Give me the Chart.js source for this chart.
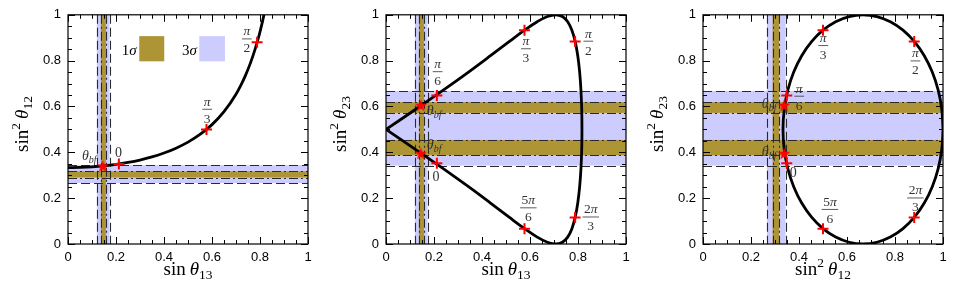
<!DOCTYPE html>
<html><head><meta charset="utf-8">
<style>
html,body{margin:0;padding:0;background:#fff;}
body{width:959px;height:290px;position:relative;overflow:hidden;}
canvas{position:absolute;top:0;display:block;}
</style>
<script src="https://cdn.jsdelivr.net/npm/chart.js@4"></script>
</head><body>
<canvas id="c1" width="318" height="290" style="left:0px"></canvas>
<canvas id="c2" width="318" height="290" style="left:318px"></canvas>
<canvas id="c3" width="318" height="290" style="left:635px"></canvas>
<script>
// ---------- axis ticks ----------
const MAJOR_TICKS = [0, 0.2, 0.4, 0.6, 0.8, 1];
const TICK_LABELS = ['0', '0.2', '0.4', '0.6', '0.8', '1'];
const MINOR_TICKS = [0.05,0.1,0.15,0.25,0.3,0.35,0.45,0.5,0.55,0.65,0.7,0.75,0.85,0.9,0.95];

// ---------- experimental ranges ----------
const S13_3SIGMA = [0.12, 0.173];      // sin(theta13)
const S13_1SIGMA = [0.137, 0.158];
const S12_3SIGMA = [0.266, 0.344];     // sin^2(theta12)
const S12_1SIGMA = [0.29, 0.317];
const S23_3SIGMA = [0.342, 0.668];     // sin^2(theta23)
const S23_1SIGMA_LO = [0.387, 0.454];
const S23_1SIGMA_HI = [0.572, 0.619];

// ---------- panel 1 : sin^2 th12 vs sin th13 ----------
const P1_CURVE = [[0,0.3333],[0.05,0.3342],[0.1,0.3367],[0.15,0.341],[0.2,0.3472],[0.25,0.3556],[0.3,0.3663],[0.35,0.3799],[0.4,0.3968],[0.45,0.418],[0.5,0.4444],[0.55,0.4779],[0.6,0.5208],[0.65,0.5772],[0.7,0.6536],[0.72,0.6921],[0.74,0.7368],[0.76,0.7891],[0.78,0.8512],[0.79,0.8868],[0.8,0.9259],[0.81,0.9693],[0.8165,1.0]];
const P1_CROSSES = [[0.212,0.349],[0.577,0.5],[0.788,0.88]];
const P1_STARS = [[0.145,0.341]];

// ---------- panel 2 : sin^2 th23 vs sin th13 ----------
const P2_CURVE = [[0,0.5],[0.1224,0.4132],[0.2385,0.329],[0.3438,0.25],[0.4355,0.1786],[0.513,0.117],[0.5774,0.067],[0.63,0.0301],[0.6727,0.0076],[0.7071,0],[0.7348,0.0076],[0.757,0.0301],[0.7746,0.067],[0.7884,0.117],[0.799,0.1786],[0.8069,0.25],[0.8123,0.329],[0.8155,0.4132],[0.8165,0.5],[0.8155,0.5868],[0.8123,0.671],[0.8069,0.75],[0.799,0.8214],[0.7884,0.883],[0.7746,0.933],[0.757,0.9699],[0.7348,0.9924],[0.7071,1],[0.6727,0.9924],[0.63,0.9699],[0.5774,0.933],[0.513,0.883],[0.4355,0.8214],[0.3438,0.75],[0.2385,0.671],[0.1224,0.5868],[0,0.5]];
const P2_CROSSES = [[0.212,0.352],[0.212,0.648],[0.577,0.933],[0.788,0.884],[0.788,0.116],[0.577,0.067]];
const P2_STARS = [[0.145,0.606],[0.145,0.396]];

// ---------- panel 3 : sin^2 th23 vs sin^2 th12 ----------
const P3_CURVE = [[1,0.5],[0.9949,0.5868],[0.9799,0.671],[0.9553,0.75],[0.922,0.8214],[0.8809,0.883],[0.8333,0.933],[0.7807,0.9699],[0.7245,0.9924],[0.6667,1],[0.6088,0.9924],[0.5527,0.9699],[0.5,0.933],[0.4524,0.883],[0.4113,0.8214],[0.378,0.75],[0.3534,0.671],[0.3384,0.5868],[0.3333,0.5],[0.3384,0.4132],[0.3534,0.329],[0.378,0.25],[0.4113,0.1786],[0.4524,0.117],[0.5,0.067],[0.5527,0.0301],[0.6088,0.0076],[0.6667,0],[0.7245,0.0076],[0.7807,0.0301],[0.8333,0.067],[0.8809,0.117],[0.922,0.1786],[0.9553,0.25],[0.9799,0.329],[0.9949,0.4132],[1,0.5]];
const P3_CROSSES = [[0.349,0.352],[0.349,0.648],[0.5,0.933],[0.88,0.884],[0.88,0.116],[0.5,0.067]];
const P3_STARS = [[0.338,0.606],[0.338,0.396]];

// ---------- annotations (value coordinates) ----------
const P1_NOTES = [
  {kind:'bf', x:0.058, y:0.386},
  {kind:'txt', s:'0', x:0.21, y:0.40},
  {kind:'frac', n:'π', d:'3', x:0.58, y:0.59},
  {kind:'frac', n:'π', d:'2', x:0.745, y:0.897}
];
const P2_NOTES = [
  {kind:'frac', n:'π', d:'6', x:0.215, y:0.754},
  {kind:'bf', x:0.17, y:0.582},
  {kind:'bf', x:0.17, y:0.435},
  {kind:'txt', s:'0', x:0.208, y:0.296},
  {kind:'frac', n:'π', d:'3', x:0.583, y:0.854},
  {kind:'frac', n:'π', d:'2', x:0.843, y:0.887},
  {kind:'frac', n:'5π', d:'6', x:0.593, y:0.16},
  {kind:'frac', n:'2π', d:'3', x:0.853, y:0.12}
];
const P3_NOTES = [
  {kind:'frac', n:'π', d:'3', x:0.501, y:0.868},
  {kind:'frac', n:'π', d:'2', x:0.885, y:0.801},
  {kind:'frac', n:'π', d:'6', x:0.401, y:0.647},
  {kind:'bf', x:0.245, y:0.611},
  {kind:'bf', x:0.245, y:0.403},
  {kind:'txt', s:'0', x:0.376, y:0.31},
  {kind:'frac', n:'5π', d:'6', x:0.529, y:0.153},
  {kind:'frac', n:'2π', d:'3', x:0.885, y:0.203}
];

// ---------- styles ----------
const LAV = '#ccccff';
const OLIVE = '#ad9536';
const LINE_COL = '#2a2a2a';
const SERIF = '"Liberation Serif", "DejaVu Serif", serif';
const SANS = '"Liberation Sans", Arial, sans-serif';
const NOTE_COL = '#333';

function pts(a){ return a.map(p => ({x:p[0], y:p[1]})); }

function makeStar(r){
  const s = Math.ceil(2*r + 2);
  const c = document.createElement('canvas'); c.width = s; c.height = s;
  const g = c.getContext('2d');
  g.translate(s/2, s/2 + r*0.1);
  g.beginPath();
  for (let i = 0; i < 10; i++){
    const rr = (i % 2) ? r*0.42 : r;
    const a = -Math.PI/2 + i*Math.PI/5;
    g.lineTo(rr*Math.cos(a), rr*Math.sin(a));
  }
  g.closePath(); g.fillStyle = '#ff0000'; g.fill();
  return c;
}
const STAR = makeStar(6.5);

// rich text: parts [{t, it, sz, dy}]
function richWidth(ctx, parts){
  let w = 0;
  parts.forEach(p => { ctx.font = (p.it?'italic ':'') + p.sz + 'px ' + SERIF; w += ctx.measureText(p.t).width + (p.gap||0); });
  return w;
}
function drawRich(ctx, parts, x, y, align){
  const w = richWidth(ctx, parts);
  let cx = align === 'center' ? x - w/2 : (align === 'right' ? x - w : x);
  ctx.textBaseline = 'alphabetic'; ctx.textAlign = 'left';
  parts.forEach(p => {
    ctx.font = (p.it?'italic ':'') + p.sz + 'px ' + SERIF;
    ctx.fillText(p.t, cx, y + (p.dy||0));
    cx += ctx.measureText(p.t).width + (p.gap||0);
  });
}
function mathParts(s, sz){
  const out = [];
  for (const ch of s){ out.push({t:ch, it:/[πθσ]/.test(ch), sz:sz}); }
  return out;
}

const TITLE = {
  sinT13: [{t:'sin',sz:19,gap:4},{t:'θ',it:true,sz:19},{t:'13',sz:13.5,dy:4}],
  sin2T12: [{t:'sin',sz:19},{t:'2',sz:13.5,dy:-8,gap:4},{t:'θ',it:true,sz:19},{t:'12',sz:13.5,dy:4}],
  sin2T23: [{t:'sin',sz:19},{t:'2',sz:13.5,dy:-8,gap:4},{t:'θ',it:true,sz:19},{t:'23',sz:13.5,dy:4}]
};

const PANELS = {
  c1: {vx3:[S13_3SIGMA], vx1:[S13_1SIGMA], hy3:[S12_3SIGMA], hy1:[S12_1SIGMA], notes:P1_NOTES, xt:'sinT13', yt:'sin2T12', legend:true},
  c2: {vx3:[S13_3SIGMA], vx1:[S13_1SIGMA], hy3:[S23_3SIGMA], hy1:[S23_1SIGMA_LO, S23_1SIGMA_HI], notes:P2_NOTES, xt:'sinT13', yt:'sin2T23'},
  c3: {vx3:[S12_3SIGMA], vx1:[S12_1SIGMA], hy3:[S23_3SIGMA], hy1:[S23_1SIGMA_LO, S23_1SIGMA_HI], notes:P3_NOTES, xt:'sin2T12', yt:'sin2T23'}
};

const panelPlugin = {
  id: 'panelDeco',
  beforeDatasetsDraw(chart){
    const o = PANELS[chart.canvas.id];
    const {ctx, chartArea:a, scales:{x, y}} = chart;
    ctx.save();
    ctx.beginPath(); ctx.rect(a.left, a.top, a.width, a.height); ctx.clip();
    const vb = (r, col) => { const x0 = x.getPixelForValue(r[0]), x1 = x.getPixelForValue(r[1]); ctx.fillStyle = col; ctx.fillRect(x0, a.top, x1-x0, a.height); };
    const hb = (r, col) => { const y0 = y.getPixelForValue(r[1]), y1 = y.getPixelForValue(r[0]); ctx.fillStyle = col; ctx.fillRect(a.left, y0, a.width, y1-y0); };
    o.vx3.forEach(r => vb(r, LAV)); o.hy3.forEach(r => hb(r, LAV));
    o.vx1.forEach(r => vb(r, OLIVE)); o.hy1.forEach(r => hb(r, OLIVE));
    ctx.strokeStyle = LINE_COL; ctx.lineWidth = 1.1;
    const vl = (v, dash) => { const px = Math.round(x.getPixelForValue(v)) + 0.5; ctx.setLineDash(dash); ctx.beginPath(); ctx.moveTo(px, a.top); ctx.lineTo(px, a.bottom); ctx.stroke(); };
    const hl = (v, dash) => { const py = Math.round(y.getPixelForValue(v)) + 0.5; ctx.setLineDash(dash); ctx.beginPath(); ctx.moveTo(a.left, py); ctx.lineTo(a.right, py); ctx.stroke(); };
    const DASH = [9, 4], DASHDOT = [9, 3, 2, 3];
    o.vx3.forEach(r => { vl(r[0], DASH); vl(r[1], DASH); });
    o.hy3.forEach(r => { hl(r[0], DASH); hl(r[1], DASH); });
    o.vx1.forEach(r => { vl(r[0], DASHDOT); vl(r[1], DASHDOT); });
    o.hy1.forEach(r => { hl(r[0], DASHDOT); hl(r[1], DASHDOT); });
    ctx.restore();
  },
  afterDatasetsDraw(chart){
    const o = PANELS[chart.canvas.id];
    const {ctx, chartArea:a, scales:{x, y}} = chart;
    ctx.save();
    ctx.fillStyle = NOTE_COL; ctx.strokeStyle = NOTE_COL;
    o.notes.forEach(n => {
      const px = x.getPixelForValue(n.x), py = y.getPixelForValue(n.y);
      if (n.kind === 'frac'){
        const np = mathParts(n.n, 13.5), dp = mathParts(n.d, 13.5);
        const w = Math.max(richWidth(ctx, np), richWidth(ctx, dp)) + 3;
        drawRich(ctx, np, px, py - 3, 'center');
        drawRich(ctx, dp, px, py + 14, 'center');
        ctx.setLineDash([]); ctx.lineWidth = 0.8;
        ctx.beginPath(); ctx.moveTo(px - w/2, py + 0.5); ctx.lineTo(px + w/2, py + 0.5); ctx.stroke();
      } else if (n.kind === 'txt'){
        drawRich(ctx, [{t:n.s, sz:14}], px, py + 4.5, 'center');
      } else if (n.kind === 'bf'){
        drawRich(ctx, [{t:'θ', it:true, sz:14}, {t:'bf', it:true, sz:10, dy:3}], px, py + 4.5, 'left');
      }
    });
    if (o.legend){
      ctx.fillStyle = OLIVE;
      const lx0 = x.getPixelForValue(0.297), lx1 = x.getPixelForValue(0.401);
      const ly0 = y.getPixelForValue(0.907), ly1 = y.getPixelForValue(0.797);
      ctx.fillRect(lx0, ly0, lx1-lx0, ly1-ly0);
      ctx.fillStyle = LAV;
      const mx0 = x.getPixelForValue(0.547), mx1 = x.getPixelForValue(0.654);
      ctx.fillRect(mx0, ly0, mx1-mx0, ly1-ly0);
      ctx.fillStyle = '#000';
      const ty = y.getPixelForValue(0.847) + 5;
      drawRich(ctx, [{t:'1',sz:15},{t:'σ',it:true,sz:15}], x.getPixelForValue(0.286), ty, 'right');
      drawRich(ctx, [{t:'3',sz:15},{t:'σ',it:true,sz:15}], x.getPixelForValue(0.5375), ty, 'right');
    }
    ctx.setLineDash([]);
    ctx.strokeStyle = '#000'; ctx.lineWidth = 1.2;
    ctx.strokeRect(a.left, a.top, a.width, a.height);
    ctx.lineWidth = 1;
    const tick = (v, len) => {
      const px = Math.round(x.getPixelForValue(v)) + 0.5;
      const py = Math.round(y.getPixelForValue(v)) + 0.5;
      ctx.beginPath();
      ctx.moveTo(px, a.bottom); ctx.lineTo(px, a.bottom - len);
      ctx.moveTo(px, a.top); ctx.lineTo(px, a.top + len);
      ctx.moveTo(a.left, py); ctx.lineTo(a.left + len, py);
      ctx.moveTo(a.right, py); ctx.lineTo(a.right - len, py);
      ctx.stroke();
    };
    MAJOR_TICKS.forEach(v => tick(v, 7));
    MINOR_TICKS.forEach(v => tick(v, 4));
    ctx.fillStyle = '#000';
    drawRich(ctx, TITLE[o.xt], (a.left + a.right)/2, 275, 'center');
    ctx.translate(28, 124);
    ctx.rotate(-Math.PI/2);
    drawRich(ctx, TITLE[o.yt], 0, 0, 'center');
    ctx.restore();
  }
};

function axis(isX){
  return {
    type: 'linear', min: 0, max: 1,
    position: isX ? 'bottom' : 'left',
    afterBuildTicks: s => { s.ticks = MAJOR_TICKS.map(v => ({value: v})); },
    afterFit: s => { if (isX) s.height = 46; else s.width = 68; },
    grid: {display: false, drawTicks: false},
    border: {display: false},
    ticks: {
      callback: (v, i) => TICK_LABELS[i],
      padding: isX ? 6 : 7,
      color: '#000',
      maxRotation: 0, autoSkip: false,
      font: {family: SANS, size: 13}
    }
  };
}

function build(id, curve, crosses, stars, interp){
  const curveDs = {data: pts(curve), showLine: true, pointRadius: 0, borderColor: '#000', borderWidth: 2.8, fill: false, order: 2};
  if (interp === 'monotone') curveDs.cubicInterpolationMode = 'monotone'; else curveDs.tension = 0.4;
  new Chart(document.getElementById(id), {
    type: 'scatter',
    data: {datasets: [
      {data: pts(stars), pointStyle: STAR, pointRadius: 6, order: 0},
      {data: pts(crosses), pointStyle: 'cross', pointRadius: 5.5, borderColor: '#ff0000', borderWidth: 2, order: 1},
      curveDs
    ]},
    options: {
      responsive: false, animation: false, devicePixelRatio: 1,
      layout: {padding: {top: 11, right: 10, left: 0, bottom: 0}},
      plugins: {legend: {display: false}, tooltip: {enabled: false}},
      scales: {x: axis(true), y: axis(false)}
    },
    plugins: [panelPlugin]
  });
}

build('c1', P1_CURVE, P1_CROSSES, P1_STARS, 'monotone');
build('c2', P2_CURVE, P2_CROSSES, P2_STARS, 'tension');
build('c3', P3_CURVE, P3_CROSSES, P3_STARS, 'tension');
</script>
</body></html>
